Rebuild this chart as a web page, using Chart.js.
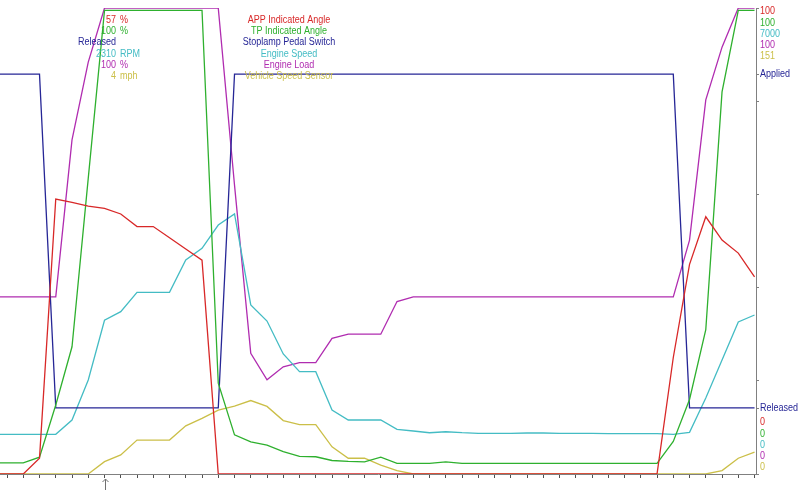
<!DOCTYPE html>
<html>
<head>
<meta charset="utf-8">
<script src="https://cdn.jsdelivr.net/npm/chart.js@4.4.0/dist/chart.umd.min.js"></script>
<style>
  html, body { margin: 0; padding: 0; background: #fff; }
  canvas { display: block; }
</style>
</head>
<body>
<canvas id="scanChart" width="800" height="494"></canvas>
<script>
// sample numbers (-1 sits just off the left edge)
const samples = [-1, 0, 1, 2, 3, 4, 5, 6, 7, 8, 9, 10, 11, 12, 13, 14, 15, 16, 17, 18, 19, 20, 21, 22, 23,
    24, 25, 26, 27, 28, 29, 30, 31, 32, 33, 34, 35, 36, 37, 38, 39, 40, 41, 42, 43, 44, 45, 46];

// APP Indicated Angle (%)
const appAngle = [0, 0, 0, 3.4, 59, 58.3, 57.5, 57, 55.8, 53.1, 53.1, 50.7, 48.3, 45.9,
    0, 0, 0, 0, 0, 0, 0, 0, 0, 0, 0, 0, 0, 0, 0, 0, 0, 0, 0, 0, 0, 0, 0, 0, 0, 0, 0, 0,
    25, 45, 55.2, 50.2, 47.4, 42.3];
// TP Indicated Angle (%)
const tpAngle = [2.4, 2.4, 2.4, 3.6, 14.8, 27.3, 63.5, 99.5, 99.5, 99.5, 99.5, 99.5, 99.5, 99.5,
    19.5, 8.4, 6.9, 6.2, 4.8, 3.8, 3.7, 2.9, 2.7, 2.6, 3.6, 2.3, 2.3, 2.3, 2.6,
    2.3, 2.3, 2.3, 2.3, 2.3, 2.3, 2.3, 2.3, 2.3, 2.3, 2.3, 2.3, 2.3,
    7, 16, 31, 82, 99.5, 99.5];
// Stoplamp Pedal Switch (1 = Applied, 0 = Released)
const stoplamp = [1, 1, 1, 1, 0, 0, 0, 0, 0, 0, 0, 0, 0, 0, 0,
    1, 1, 1, 1, 1, 1, 1, 1, 1, 1, 1, 1, 1, 1, 1, 1, 1, 1, 1, 1, 1, 1, 1, 1, 1, 1, 1, 1,
    0, 0, 0, 0, 0];
// Engine Speed (RPM)
const engineSpeed = [596, 596, 596, 596, 596, 811, 1412, 2310, 2438, 2729, 2729, 2729, 3215, 3390,
    3740, 3906, 2539, 2298, 1803, 1537, 1537, 961, 811, 811, 811, 671, 646, 620, 635,
    620, 611, 611, 611, 616, 616, 611, 611, 611, 606, 606, 606, 606, 596,
    626, 1142, 1712, 2283, 2388];
// Engine Load (%)
const engineLoad = [38, 38, 38, 38, 38, 71.7, 88.4, 100, 100, 100, 100, 100, 100, 100, 100,
    62, 25.9, 20.2, 23, 23.9, 23.9, 29.1, 30, 30, 30, 37,
    38, 38, 38, 38, 38, 38, 38, 38, 38, 38, 38, 38, 38, 38, 38, 38, 38,
    50.2, 80.3, 91.6, 100, 100];
// Vehicle Speed Sensor (mph)
const vehicleSpeed = [0, 0, 0, 0, 0, 0, 0, 4, 6.2, 11, 11, 11, 15.6, 18, 20.7, 22, 23.8, 21.9,
    17.3, 16, 16, 8.8, 5.1, 5.1, 2.9, 1.1,
    0, 0, 0, 0, 0, 0, 0, 0, 0, 0, 0, 0, 0, 0, 0, 0, 0, 0, 0,
    1.1, 5.1, 7.1];

const seriesNames = ['APP Indicated Angle', 'TP Indicated Angle', 'Stoplamp Pedal Switch',
    'Engine Speed', 'Engine Load', 'Vehicle Speed Sensor'];
const seriesColors = ['#d82828', '#2eb02e', '#262696', '#44bcc4', '#b02cb0', '#cbbf48'];
const maxLabels = ['100', '100', '7000', '100', '151'];
const minLabels = ['0', '0', '0', '0', '0'];
const cursorIndex = 6;
const cursorValues = ['57', '100', 'Released', '2310', '100', '4'];
const cursorUnits = ['%', '%', '', 'RPM', '%', 'mph'];

function pts(arr) {
    return samples.map((s, i) => ({ x: s, y: arr[i] }));
}

function drawText(ctx, txt, x, y, align, color) {
    ctx.save();
    ctx.translate(x, y);
    ctx.scale(0.9, 1);
    ctx.textAlign = align;
    ctx.fillStyle = color;
    ctx.fillText(txt, 0, 0);
    ctx.restore();
}

const overlay = {
    id: 'overlay',
    afterDraw(chart) {
        const ctx = chart.ctx;
        const area = chart.chartArea;
        const sy = chart.scales.yStop;
        const sx = chart.scales.x;
        ctx.save();
        ctx.font = '10px "Liberation Sans", Arial, sans-serif';
        ctx.textBaseline = 'middle';

        // names in the middle, cursor readout on the left
        seriesNames.forEach((name, i) => {
            const y = 20.5 + i * 11.1;
            drawText(ctx, name, 289, y, 'center', seriesColors[i]);
            drawText(ctx, cursorValues[i], 116, y, 'right', seriesColors[i]);
            if (cursorUnits[i]) drawText(ctx, cursorUnits[i], 120, y, 'left', seriesColors[i]);
        });

        // scale labels on the right
        const skip = [0, 1, 3, 4, 5];
        maxLabels.forEach((t, i) => {
            drawText(ctx, t, area.right + 4, 11.7 + i * 11.1, 'left', seriesColors[skip[i]]);
        });
        minLabels.forEach((t, i) => {
            drawText(ctx, t, area.right + 4, 422.7 + i * 11.1, 'left', seriesColors[skip[i]]);
        });
        [[1, 'Applied'], [0, 'Released']].forEach(([v, t]) => {
            const y = Math.round(sy.getPixelForValue(v)) + 0.5;
            ctx.strokeStyle = '#808080';
            ctx.lineWidth = 1;
            ctx.beginPath();
            ctx.moveTo(area.right, y);
            ctx.lineTo(area.right + 3, y);
            ctx.stroke();
            drawText(ctx, t, area.right + 4, y, 'left', seriesColors[2]);
        });

        // cursor arrow under the axis
        const cx = Math.round(sx.getPixelForValue(cursorIndex)) + 0.5;
        ctx.strokeStyle = '#707070';
        ctx.beginPath();
        ctx.moveTo(cx, area.bottom + 5);
        ctx.lineTo(cx, area.bottom + 16);
        ctx.moveTo(cx - 3, area.bottom + 8);
        ctx.lineTo(cx, area.bottom + 5);
        ctx.lineTo(cx + 3, area.bottom + 8);
        ctx.stroke();
        ctx.restore();
    }
};

const axisIds = ['yApp', 'yTp', 'yStop', 'yRpm', 'yLoad', 'yVss'];
const seriesData = [appAngle, tpAngle, stoplamp, engineSpeed, engineLoad, vehicleSpeed];

new Chart(document.getElementById('scanChart'), {
    type: 'line',
    data: {
        datasets: seriesData.map((arr, i) => ({
            label: seriesNames[i],
            data: pts(arr),
            borderColor: seriesColors[i],
            borderWidth: 1.3,
            pointRadius: 0,
            tension: 0,
            yAxisID: axisIds[i]
        }))
    },
    options: {
        responsive: false,
        animation: false,
        events: [],
        layout: { padding: { top: 8, right: 41, bottom: 16, left: 0 } },
        plugins: { legend: { display: false }, tooltip: { enabled: false } },
        scales: {
            x: {
                type: 'linear',
                min: -0.431,
                max: 46.09,
                border: { color: '#808080', width: 1 },
                grid: { drawOnChartArea: false, tickLength: 4, color: '#505050' },
                ticks: { display: false },
                afterBuildTicks: s => { s.ticks = samples.filter(v => v >= 0).map(v => ({ value: v })); }
            },
            yApp: {
                position: 'right',
                min: 0, max: 100,
                border: { color: '#808080', width: 1 },
                grid: { drawOnChartArea: false, tickLength: 3, color: '#808080' },
                ticks: { display: false },
                afterBuildTicks: s => { s.ticks = [0, 20, 40, 60, 80, 100].map(v => ({ value: v })); }
            },
            yTp: { display: false, min: 0, max: 100 },
            yStop: { display: false, min: -0.198, max: 1.198 },
            yRpm: { display: false, min: 0, max: 7000 },
            yLoad: { display: false, min: 0, max: 100 },
            yVss: { display: false, min: 0, max: 151 }
        }
    },
    plugins: [overlay]
});
</script>
</body>
</html>
